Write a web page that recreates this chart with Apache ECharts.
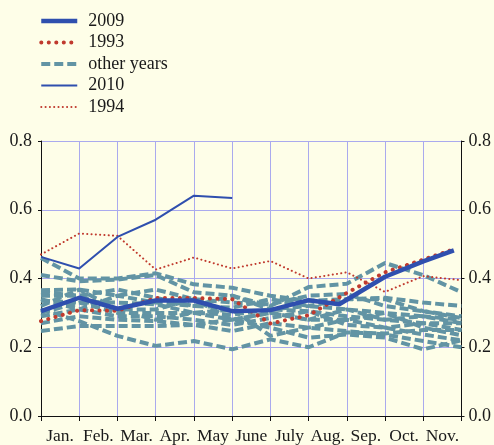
<!DOCTYPE html>
<html><head><meta charset="utf-8">
<script src="https://cdn.jsdelivr.net/npm/echarts@6/dist/echarts.min.js"></script>
<style>html,body{margin:0;padding:0;background:#fefee8}#c{width:494px;height:445px}</style>
</head><body><div id="c"></div>
<script>
// ---- data ----
const months = ['Jan.','Feb.','Mar.','Apr.','May','June','July','Aug.','Sep.','Oct.','Nov.'];
const monthPos = [0,1,2,3,4,5,6,7,8,9,10,11];
const pos2009 = [0,1,2,3,4,5,6,7,7.8,9,10,10.8];
const v2009 = [0.305,0.344,0.312,0.336,0.336,0.305,0.308,0.337,0.325,0.405,0.45,0.482];
const pos1993 = [0,1,2,3,4,5,6,7,8,9,10,10.8];
const v1993 = [0.276,0.308,0.306,0.343,0.343,0.34,0.269,0.293,0.358,0.418,0.455,0.485];
const pos2010 = [0,1,2,3,4,5];
const v2010 = [0.463,0.429,0.521,0.571,0.641,0.634];
const v1994 = [0.47,0.531,0.524,0.426,0.461,0.429,0.451,0.40,0.418,0.361,0.407,0.395];
const other1 = [0.46,0.40,0.40,0.415,0.383,0.373,0.35,0.335,0.34,0.344,0.33,0.32];
const other2 = [0.41,0.392,0.397,0.41,0.36,0.35,0.32,0.375,0.385,0.445,0.41,0.36];
const other3 = [0.366,0.368,0.35,0.368,0.34,0.33,0.325,0.35,0.355,0.32,0.305,0.285];
const other4 = [0.35,0.35,0.368,0.344,0.32,0.315,0.34,0.32,0.31,0.30,0.29,0.27];
const other5 = [0.335,0.33,0.33,0.325,0.30,0.295,0.31,0.305,0.29,0.28,0.27,0.25];
const other6 = [0.32,0.368,0.31,0.31,0.34,0.28,0.30,0.28,0.28,0.30,0.257,0.235];
const other7 = [0.29,0.31,0.29,0.29,0.28,0.265,0.285,0.305,0.265,0.257,0.237,0.22];
const other8 = [0.27,0.29,0.28,0.276,0.265,0.247,0.27,0.257,0.247,0.237,0.218,0.20];
const other9 = [0.247,0.262,0.262,0.262,0.265,0.28,0.257,0.228,0.237,0.228,0.194,0.22];
const other10 = [0.31,0.276,0.233,0.204,0.218,0.194,0.223,0.20,0.243,0.24,0.25,0.25];
const other11 = [0.34,0.31,0.35,0.33,0.32,0.35,0.31,0.32,0.34,0.34,0.305,0.29];
const other12 = [0.30,0.33,0.30,0.30,0.30,0.31,0.233,0.257,0.28,0.257,0.27,0.27];
const other13 = [0.36,0.35,0.31,0.28,0.30,0.28,0.30,0.28,0.31,0.28,0.29,0.28];
const otherYears = [other1,other2,other3,other4,other5,other6,other7,other8,other9,other10,other11,other12,other13];

// ---- styles ----
const FONT = 'Liberation Serif';
const BLUE = '#2f4fae', RED = '#c03a2e', TEAL = '#6294a4', GRID = '#aaaaee';
const pair = (xs, ys) => ys.map((y, i) => [xs[i], y]);

const series = [];
otherYears.forEach(arr => series.push({
  name: 'other years', type: 'line', data: pair(monthPos, arr), showSymbol: false, symbol: 'none',
  lineStyle: { color: TEAL, width: 4, type: [9, 4] }, itemStyle: { color: TEAL }, z: 2, silent: true
}));
series.push({ name: '1994', type: 'line', data: pair(monthPos, v1994), symbol: 'none',
  lineStyle: { color: RED, width: 2, type: [0.1, 4.2], cap: 'round' }, itemStyle: { color: RED }, z: 3 });
series.push({ name: '2010', type: 'line', data: pair(pos2010, v2010), symbol: 'none',
  lineStyle: { color: BLUE, width: 2 }, itemStyle: { color: BLUE }, z: 3 });
series.push({ name: '1993', type: 'line', data: pair(pos1993, v1993), symbol: 'none',
  lineStyle: { color: RED, width: 4, type: [0.1, 7.4], cap: 'round' }, itemStyle: { color: RED }, z: 4 });
series.push({ name: '2009', type: 'line', data: pair(pos2009, v2009), symbol: 'none',
  lineStyle: { color: BLUE, width: 4.5 }, itemStyle: { color: BLUE }, z: 5 });

const chart = echarts.init(document.getElementById('c'), null, { renderer: 'canvas' });
chart.setOption({
  backgroundColor: '#fefee8',
  animation: false,
  textStyle: { fontFamily: FONT },
  legend: {
    data: ['2009','1993','other years','2010','1994'],
    orient: 'vertical', left: 39, top: 12, padding: 0,
    itemWidth: 36, itemHeight: 14, itemGap: 3.5,
    textStyle: { fontFamily: FONT, fontSize: 18, color: '#1a1a1a', padding: [0,0,0,6] },
    lineStyle: { width: 'inherit' },
    itemStyle: { opacity: 0 }
  },
  grid: { left: 41, right: 31, top: 141, bottom: 28, containLabel: false },
  xAxis: [
    { type: 'value', min: 0, max: 11, interval: 1, position: 'bottom',
      axisLabel: { show: false }, axisTick: { show: false }, axisLine: { show: false },
      splitLine: { show: true, lineStyle: { color: GRID, width: 1 } } },
    { type: 'category', data: months, position: 'bottom', offset: 3, boundaryGap: true,
      axisLine: { show: true, lineStyle: { color: '#111', width: 1 } },
      axisTick: { show: true, length: 5, interval: 0, lineStyle: { color: '#111' } },
      axisLabel: { interval: 0, hideOverlap: false, fontFamily: FONT, fontSize: 17.5, color: '#1a1a1a', margin: 8 },
      splitLine: { show: false } }
  ],
  yAxis: [
    { type: 'value', min: 0, max: 0.8, interval: 0.2, position: 'left',
      axisLine: { show: true, lineStyle: { color: '#111', width: 1 } },
      axisTick: { show: true, length: 3, lineStyle: { color: '#111' } },
      axisLabel: { formatter: v => v.toFixed(1), fontFamily: FONT, fontSize: 18, color: '#1a1a1a', margin: 9 },
      splitLine: { show: true, lineStyle: { color: ['rgba(0,0,0,0)', GRID, GRID, GRID, GRID], width: 1 } } },
    { type: 'value', min: 0, max: 0.8, interval: 0.2, position: 'right',
      axisLine: { show: true, lineStyle: { color: '#111', width: 1 } },
      axisTick: { show: true, length: 3, lineStyle: { color: '#111' } },
      axisLabel: { formatter: v => v.toFixed(1), fontFamily: FONT, fontSize: 18, color: '#1a1a1a', margin: 7 },
      splitLine: { show: false } }
  ],
  series: series
});
</script></body></html>
